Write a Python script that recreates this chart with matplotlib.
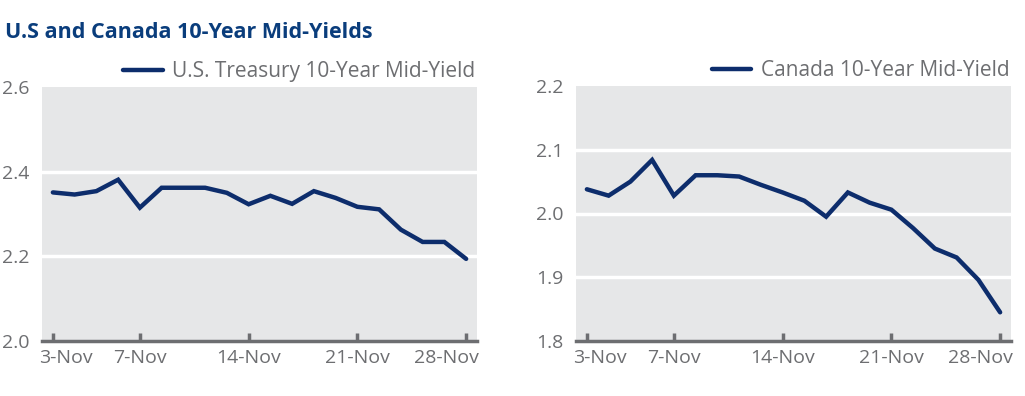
import matplotlib
matplotlib.use("Agg")
import matplotlib.pyplot as plt
import matplotlib.transforms as mtransforms

plt.rcParams["font.family"] = ["Open Sans", "DejaVu Sans"]

# business days, 3-Nov to 28-Nov
days = ["3-Nov", "4-Nov", "5-Nov", "6-Nov", "7-Nov",
        "10-Nov", "11-Nov", "12-Nov", "13-Nov", "14-Nov",
        "17-Nov", "18-Nov", "19-Nov", "20-Nov", "21-Nov",
        "24-Nov", "25-Nov", "26-Nov", "27-Nov", "28-Nov"]
us_yield = [2.351, 2.346, 2.354, 2.381, 2.315, 2.362, 2.362, 2.362, 2.350, 2.323,
            2.343, 2.324, 2.354, 2.338, 2.317, 2.311, 2.263, 2.234, 2.234, 2.194]
ca_yield = [2.038, 2.028, 2.050, 2.084, 2.028, 2.060, 2.060, 2.058, 2.045, 2.033,
            2.020, 1.995, 2.033, 2.017, 2.006, 1.977, 1.945, 1.931, 1.896, 1.845]
tick_days = ["3-Nov", "7-Nov", "14-Nov", "21-Nov", "28-Nov"]

NAVY = "#0d2d6c"
GREY_BG = "#e6e7e8"
TXT = "#6d6e71"

fig = plt.figure(figsize=(10.25, 3.96), dpi=100)
W, H = 1025, 396


def panel(x0, x1, y_top, y_bot, values, label, yticks):
    ax = fig.add_axes([x0 / W, (H - y_bot) / H, (x1 - x0) / W, (y_bot - y_top) / H])
    ax.set_facecolor(GREY_BG)
    xs = list(range(len(days)))
    ax.plot(xs, values, color=NAVY, lw=3.2, solid_capstyle="round",
            solid_joinstyle="miter", label=label, zorder=3)
    ax.set_xlim(-0.5, len(days) - 0.5)
    ax.set_ylim(yticks[0], yticks[-1])
    ax.set_yticks(yticks)
    ax.set_yticklabels([f"{t:.1f}" for t in yticks])
    ax.set_xticks([days.index(d) for d in tick_days])
    ax.set_xticklabels(tick_days)
    for t in yticks[1:-1]:
        ax.axhline(t, color="white", lw=2.5, zorder=1)
    for s in ["top", "left", "right"]:
        ax.spines[s].set_visible(False)
    ax.spines["bottom"].set_color(TXT)
    ax.spines["bottom"].set_linewidth(2.5)
    ax.spines["bottom"].set_zorder(4)
    ax.tick_params(axis="y", length=0, pad=9, labelsize=14, labelcolor=TXT)
    ax.tick_params(axis="x", direction="in", length=6, width=2.5, color=TXT,
                   pad=6, labelsize=14, labelcolor=TXT)
    # keep the end labels inside the plot width
    labels = ax.get_xticklabels()
    for lab, dx in [(labels[0], 13.5), (labels[-1], -20)]:
        lab.set_transform(lab.get_transform() +
                          mtransforms.ScaledTranslation(dx / 100, 0, fig.dpi_scale_trans))
    leg = ax.legend(loc="lower right", bbox_to_anchor=(0.996, 1.02), frameon=False,
                    borderaxespad=0, borderpad=0, handlelength=1.9,
                    handletextpad=0.45, fontsize=15)
    for t in leg.get_texts():
        t.set_color(TXT)
    return ax


panel(42, 477, 87, 341, us_yield, "U.S. Treasury 10-Year Mid-Yield",
      [2.0, 2.2, 2.4, 2.6])
panel(576, 1011, 86, 341, ca_yield, "Canada 10-Year Mid-Yield",
      [1.8, 1.9, 2.0, 2.1, 2.2])

fig.text(5 / W, 1 - 32 / H, "U.S and Canada 10-Year Mid-Yields", color="#0a3d7c",
         fontsize=15.5, fontweight="bold", ha="left", va="center")

fig.savefig("out.png", dpi=100)
